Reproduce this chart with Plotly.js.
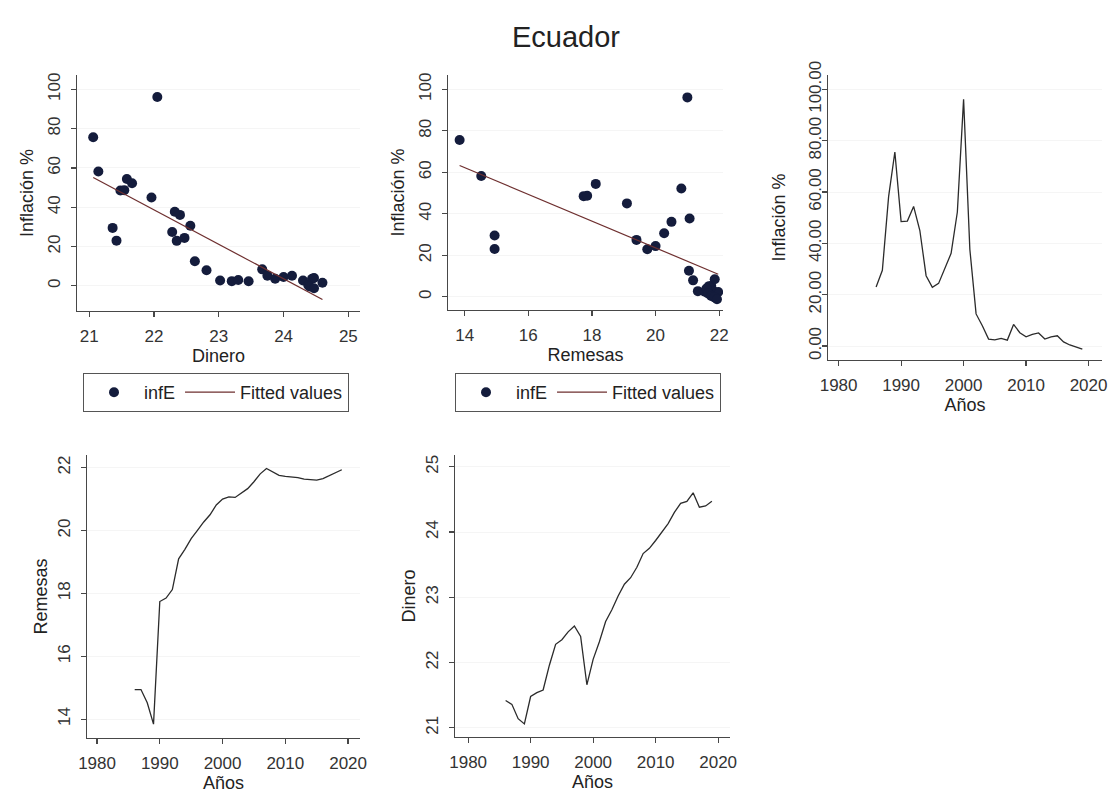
<!DOCTYPE html>
<html><head><meta charset="utf-8">
<script src="https://cdn.plot.ly/plotly-3.0.1.min.js"></script>
<style>html,body{margin:0;padding:0;background:#fff}#chart{width:1113px;height:809px}</style>
</head><body><div id="chart"></div><script>
// ---- data ----
const years = [1986,1987,1988,1989,1990,1991,1992,1993,1994,1995,1996,1997,1998,1999,2000,2001,2002,2003,2004,2005,2006,2007,2008,2009,2010,2011,2012,2013,2014,2015,2016,2017,2018,2019];
const inflacion = [23.0,29.5,58.2,75.6,48.5,48.7,54.4,45.0,27.4,22.9,24.4,30.6,36.1,52.2,96.1,37.7,12.5,7.9,2.7,2.4,3.0,2.3,8.4,5.2,3.6,4.5,5.1,2.7,3.6,4.0,1.6,0.4,-0.3,-1.2];
const dinero = [21.42,21.36,21.14,21.06,21.48,21.54,21.58,21.96,22.28,22.35,22.47,22.56,22.40,21.66,22.05,22.32,22.63,22.81,23.02,23.20,23.30,23.46,23.67,23.75,23.87,24.00,24.13,24.30,24.44,24.47,24.60,24.38,24.40,24.47];
const remesas = [14.94,14.94,14.52,13.84,17.74,17.85,18.12,19.10,19.40,19.74,20.00,20.27,20.50,20.81,21.00,21.07,21.05,21.18,21.33,21.55,21.80,21.97,21.86,21.75,21.72,21.70,21.68,21.63,21.61,21.60,21.65,21.75,21.85,21.93];

const inflTicks = [0,20,40,60,80,100];
const inflTickText = ['0','20','40','60','80','100'];
const inflTickTextDec = ['0.00','20.00','40.00','60.00','80.00','100.00'];
const yearTicks = [1980,1990,2000,2010,2020];
const dineroTicks = [21,22,23,24,25];
const remesasTicks = [14,16,18,20,22];

const chartTitle = 'Ecuador';
const labInfl = 'Inflación %';
const labDinero = 'Dinero';
const labRemesas = 'Remesas';
const labAnios = 'Años';
const serieName = 'infE';
const fitName = 'Fitted values';

// ---- linear fit (OLS) ----
function linfit(x, y){
  const n = x.length;
  const mx = x.reduce((a,b)=>a+b,0)/n, my = y.reduce((a,b)=>a+b,0)/n;
  let sxy=0, sxx=0;
  for(let i=0;i<n;i++){ sxy += (x[i]-mx)*(y[i]-my); sxx += (x[i]-mx)*(x[i]-mx); }
  const b = sxy/sxx, a = my - b*mx;
  const xs = x.slice().sort((p,q)=>p-q);
  return {x: xs, y: xs.map(v=>a+b*v)};
}
const fitD = linfit(dinero, inflacion);
const fitR = linfit(remesas, inflacion);

// ---- styling ----
const W = 1113, H = 809;
const FONT = '"Liberation Sans", Arial, sans-serif';
const markerColor = '#141c3c';
const fitColor = '#6e2f2f';
const lineColor = '#2b2b2b';
const axisColor = '#474747';
const dx = (a,b)=>[a/W, b/W];
const dy = (top,bottom)=>[1-bottom/H, 1-top/H];
const titleFont = {family: FONT, size: 18, color: '#222'};

function xax(domain, range, ticks, text, title, extra){
  return Object.assign({
    domain: domain, range: range, tickvals: ticks, ticktext: text,
    showline: true, linecolor: axisColor, linewidth: 1.3, mirror: false,
    ticks: 'outside', ticklen: 5, tickwidth: 1.2, tickcolor: axisColor,
    showgrid: false, zeroline: false, fixedrange: true,
    tickfont: {family: FONT, size: 17, color: '#333'},
    ticklabelstandoff: 4,
    title: {text: title, font: titleFont, standoff: 0}
  }, extra||{});
}
function yax(domain, range, ticks, text, title, extra){
  return Object.assign({
    domain: domain, range: range, tickvals: ticks, ticktext: text,
    showline: true, linecolor: axisColor, linewidth: 1.3, mirror: false,
    ticks: 'outside', ticklen: 5, tickwidth: 1.2, tickcolor: axisColor,
    showgrid: true, gridcolor: '#f5f5f5', gridwidth: 1, zeroline: false, fixedrange: true,
    tickangle: -90,
    tickfont: {family: FONT, size: 17, color: '#333'},
    ticklabelstandoff: 4,
    title: {text: title, font: titleFont, standoff: 6}
  }, extra||{});
}

const traces = [
  {type:'scatter', mode:'markers', x: dinero, y: inflacion, xaxis:'x', yaxis:'y',
   name: serieName, legend:'legend', marker:{color: markerColor, size: 10}},
  {type:'scatter', mode:'lines', x: fitD.x, y: fitD.y, xaxis:'x', yaxis:'y',
   name: fitName, legend:'legend', line:{color: fitColor, width: 1.2}},
  {type:'scatter', mode:'markers', x: remesas, y: inflacion, xaxis:'x2', yaxis:'y2',
   name: serieName, legend:'legend2', marker:{color: markerColor, size: 10}},
  {type:'scatter', mode:'lines', x: fitR.x, y: fitR.y, xaxis:'x2', yaxis:'y2',
   name: fitName, legend:'legend2', line:{color: fitColor, width: 1.2}},
  {type:'scatter', mode:'lines', x: years, y: inflacion, xaxis:'x3', yaxis:'y3',
   showlegend:false, line:{color: lineColor, width: 1.3}},
  {type:'scatter', mode:'lines', x: years, y: remesas, xaxis:'x4', yaxis:'y4',
   showlegend:false, line:{color: lineColor, width: 1.3}},
  {type:'scatter', mode:'lines', x: years, y: dinero, xaxis:'x5', yaxis:'y5',
   showlegend:false, line:{color: lineColor, width: 1.3}}
];

const legendBase = {
  orientation:'h', xanchor:'left', yanchor:'top',
  bordercolor:'#555', borderwidth:1, bgcolor:'#fff',
  font:{family: FONT, size: 18, color:'#222'},
  itemwidth: 50, tracegroupgap: 0
};

const layout = {
  width: W, height: H,
  margin: {l:0, r:0, t:0, b:0},
  paper_bgcolor: '#fff', plot_bgcolor: '#fff',
  font: {family: FONT},
  showlegend: true,
  title: {text: chartTitle, x: 566/W, xanchor:'center', y: 1-37/H, yanchor:'middle',
          font:{family: FONT, size: 29, color:'#222'}},
  xaxis:  xax(dx(77,360),  [20.81, 25.18], dineroTicks, dineroTicks.map(String), labDinero, {anchor:'y'}),
  yaxis:  yax(dy(75,311),  [-12.8, 107.3], inflTicks, inflTickText, labInfl, {anchor:'x'}),
  xaxis2: xax(dx(448,723), [13.475, 22.12], remesasTicks, remesasTicks.map(String), labRemesas, {anchor:'y2'}),
  yaxis2: yax(dy(75,310),  [-6.4, 106.9], inflTicks, inflTickText, labInfl, {anchor:'x2'}),
  xaxis3: xax(dx(828,1102),[1978.3, 2022.15], yearTicks, yearTicks.map(String), labAnios, {anchor:'y3'}),
  yaxis3: yax(dy(75,360),  [-5.45, 105.6], inflTicks, inflTickTextDec, labInfl, {anchor:'x3', ticklabelstandoff: -6, title: {text: labInfl, font: titleFont, standoff: 15}}),
  xaxis4: xax(dx(87,360),  [1978.4, 2021.9], yearTicks, yearTicks.map(String), labAnios, {anchor:'y4'}),
  yaxis4: yax(dy(455,738), [13.4, 22.4], remesasTicks, remesasTicks.map(String), labRemesas, {anchor:'x4', title: {text: labRemesas, font: titleFont, standoff: 2}}),
  xaxis5: xax(dx(455,730), [1977.9, 2021.9], yearTicks, yearTicks.map(String), labAnios, {anchor:'y5'}),
  yaxis5: yax(dy(455,737), [20.86, 25.18], dineroTicks, dineroTicks.map(String), labDinero, {anchor:'x5', title: {text: labDinero, font: titleFont, standoff: 2}}),
  legend:  Object.assign({}, legendBase, {x: 83/W, y: 1-373/H}),
  legend2: Object.assign({}, legendBase, {x: 455/W, y: 1-373/H})
};

Plotly.newPlot('chart', traces, layout, {displayModeBar:false, staticPlot:true});
</script></body></html>
